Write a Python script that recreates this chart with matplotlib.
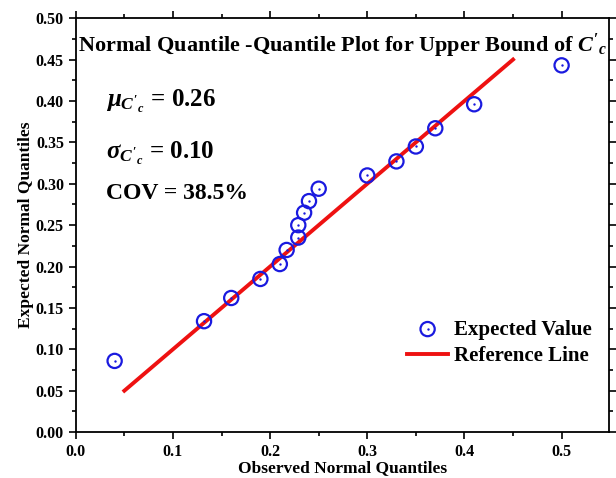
import matplotlib.pyplot as plt
from matplotlib.ticker import MultipleLocator

# observed vs expected normal quantiles
observed = [0.04, 0.132, 0.16, 0.19, 0.21, 0.217, 0.229, 0.229, 0.235, 0.24, 0.25,
            0.30, 0.33, 0.35, 0.37, 0.41, 0.50]
expected = [0.086, 0.134, 0.162, 0.185, 0.203, 0.220, 0.235, 0.250, 0.265, 0.279, 0.294,
            0.310, 0.327, 0.345, 0.367, 0.396, 0.443]
ref_x = [0.05, 0.45]
ref_y = [0.05, 0.45]

plt.rcParams['font.family'] = 'Liberation Serif'
plt.rcParams['font.weight'] = 'bold'
plt.rcParams['mathtext.fontset'] = 'custom'
plt.rcParams['mathtext.it'] = 'Liberation Serif:italic:bold'
plt.rcParams['mathtext.rm'] = 'Liberation Serif:bold'
plt.rcParams['mathtext.bf'] = 'Liberation Serif:bold'

fig = plt.figure(figsize=(6.16, 4.78), dpi=100)
ax = fig.add_axes([0.123, 0.096, 0.866, 0.866])

blue = '#1a1adf'
circ = ax.scatter(observed, expected, marker='o', s=105, facecolors='none', edgecolors=blue,
                  linewidths=1.6, zorder=3)
dot = ax.scatter(observed, expected, marker='o', s=3, color=blue, linewidths=0, zorder=3)
line, = ax.plot(ref_x, ref_y, color='#ee1111', lw=2.8, zorder=2)

ax.set_xlim(0, 0.549)
ax.set_ylim(0, 0.5)
ax.xaxis.set_major_locator(MultipleLocator(0.1))
ax.xaxis.set_minor_locator(MultipleLocator(0.05))
ax.yaxis.set_major_locator(MultipleLocator(0.05))
ax.yaxis.set_minor_locator(MultipleLocator(0.025))
ax.xaxis.set_major_formatter(plt.FuncFormatter(lambda v, p: '%.1f' % v))
ax.yaxis.set_major_formatter(plt.FuncFormatter(lambda v, p: '%.2f' % v))
ax.tick_params(which='both', direction='out', top=True, right=True, labelsize=11.5, width=1.2)
ax.tick_params(which='major', length=5)
ax.tick_params(which='minor', length=3)
for s in ax.spines.values():
    s.set_linewidth(1.3)

ax.set_xlabel('Observed Normal Quantiles', fontsize=12.5, fontweight='bold', labelpad=0)
ax.set_ylabel('Expected Normal Quantiles', fontsize=12.5, fontweight='bold', labelpad=1)

ax.text(0.50, 0.932, r"Normal Quantile -Quantile Plot for Upper Bound of $C'_c$",
        transform=ax.transAxes, ha='center', va='center', fontsize=16, fontweight='bold')
ax.text(0.056, 0.80, r"$\mu_{C'_c}$ = 0.26", transform=ax.transAxes,
        ha='left', va='center', fontsize=18, fontweight='bold')
ax.text(0.056, 0.674, r"$\sigma_{C'_c}$ = 0.10", transform=ax.transAxes,
        ha='left', va='center', fontsize=18, fontweight='bold')
ax.text(0.056, 0.577, "COV = 38.5%", transform=ax.transAxes,
        ha='left', va='center', fontsize=17, fontweight='bold')

ax.legend([(circ, dot), line], ['Expected Value', 'Reference Line'],
          loc='lower right', bbox_to_anchor=(0.99, 0.13), frameon=False, fontsize=15,
          handlelength=2.0, handletextpad=0.25, borderaxespad=0.2, labelspacing=0.3)

fig.savefig('out.png', dpi=100)
